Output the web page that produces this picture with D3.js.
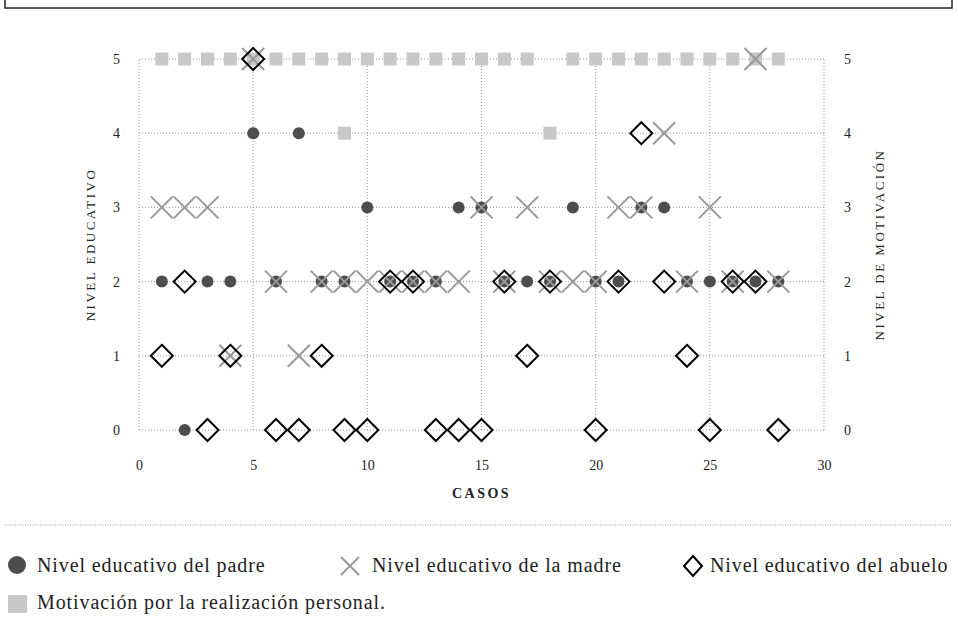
<!DOCTYPE html>
<html lang="es">
<head>
<meta charset="UTF-8">
<script src="https://d3js.org/d3.v7.min.js"></script>
<style>
  body { margin: 0; background: #fff; }
  svg { display: block; font-family: "Liberation Serif", "DejaVu Serif", serif; }
</style>
</head>
<body>
<div id="chart"></div>
<script>
// casos 1..28
var casos = d3.range(1, 29);
var xTicks = [0, 5, 10, 15, 20, 25, 30];
var yTicks = [0, 1, 2, 3, 4, 5];

var padre = [2, 0, 2, 2, 4, 2, 4, 2, 2, 3, 2, 2, 2, 3, 3, 2, 2, 2, 3, 2, 2, 3, 3, 2, 2, 2, 2, 2];
var madre = [3, 3, 3, 1, 5, 2, 1, 2, 2, 2, 2, 2, 2, 2, 3, 2, 3, 2, 2, 2, 3, 3, 4, 2, 3, 2, 5, 2];
// caso 19 sin dato del abuelo
var abuelo = [1, 2, 0, 1, 5, 0, 0, 1, 0, 0, 2, 2, 0, 0, 0, 2, 1, 2, null, 0, 2, 4, 2, 1, 0, 2, 2, 0];
var motivCasos = [1, 2, 3, 4, 5, 6, 7, 8, 9, 9, 10, 11, 12, 13, 14, 15, 16, 17, 18, 19, 20, 21, 22, 23, 24, 25, 26, 27, 28];
var motivValores = [5, 5, 5, 5, 5, 5, 5, 5, 5, 4, 5, 5, 5, 5, 5, 5, 5, 5, 4, 5, 5, 5, 5, 5, 5, 5, 5, 5, 5];

var leyenda = ["Nivel educativo del padre", "Nivel educativo de la madre", "Nivel educativo del abuelo", "Motivación por la realización personal."];

var width = 958, height = 621;
var margin = {top: 59, right: 134, bottom: 191, left: 139};

var svg = d3.select("#chart").append("svg")
    .attr("width", width)
    .attr("height", height);

// marco superior
svg.append("rect")
    .attr("x", 5).attr("y", -20)
    .attr("width", 947).attr("height", 28)
    .attr("fill", "none").attr("stroke", "#222").attr("stroke-width", 1.5);

var x = d3.scaleLinear().domain([0, 30]).range([margin.left, width - margin.right]);
var y = d3.scaleLinear().domain([0, 5]).range([height - margin.bottom, margin.top]);

// rejilla
var grid = svg.append("g").attr("stroke", "#999").attr("stroke-width", 1).attr("stroke-dasharray", "1,2");
grid.selectAll("line.h").data(yTicks).join("line")
    .attr("x1", x(0)).attr("x2", x(30))
    .attr("y1", d => y(d)).attr("y2", d => y(d));
grid.selectAll("line.v").data(xTicks).join("line")
    .attr("x1", d => x(d)).attr("x2", d => x(d))
    .attr("y1", y(0)).attr("y2", y(5));

// ejes
var xAxis = g => g
    .attr("transform", `translate(0,${y(0)})`)
    .call(d3.axisBottom(x).tickValues(xTicks).tickSize(0).tickPadding(30).tickFormat(d3.format("d")))
    .call(g => g.select(".domain").remove());
var yAxisLeft = g => g
    .attr("transform", `translate(${x(0)},0)`)
    .call(d3.axisLeft(y).tickValues(yTicks).tickSize(0).tickPadding(19).tickFormat(d3.format("d")))
    .call(g => g.select(".domain").remove());
var yAxisRight = g => g
    .attr("transform", `translate(${x(30)},0)`)
    .call(d3.axisRight(y).tickValues(yTicks).tickSize(0).tickPadding(20).tickFormat(d3.format("d")))
    .call(g => g.select(".domain").remove());

[xAxis, yAxisLeft, yAxisRight].forEach(a => {
    svg.append("g").call(a)
        .call(g => g.selectAll("text").attr("font-size", 14).attr("fill", "#222")
            .style("font-family", "'Liberation Serif', serif"));
});

// títulos de ejes
svg.append("text")
    .attr("x", x(15)).attr("y", 498)
    .attr("text-anchor", "middle")
    .attr("font-size", 14).attr("font-weight", "bold")
    .attr("letter-spacing", 2.5).attr("fill", "#222")
    .text("CASOS");
svg.append("text")
    .attr("transform", `translate(95,${y(2.5)}) rotate(-90)`)
    .attr("text-anchor", "middle")
    .attr("font-size", 13).attr("letter-spacing", 2.5).attr("fill", "#222")
    .text("NIVEL EDUCATIVO");
svg.append("text")
    .attr("transform", `translate(884,${y(2.5)}) rotate(-90)`)
    .attr("text-anchor", "middle")
    .attr("font-size", 13).attr("letter-spacing", 2.5).attr("fill", "#222")
    .text("NIVEL DE MOTIVACIÓN");

// marcas
var cSquare = "#c8c8c8", cCircle = "#4d4d4d", cCross = "#999", cDiamond = "#000";
var sq = 13, cr = 6, xs = 11, dm = 11;

var motiv = motivCasos.map((c, i) => ({c: c, v: motivValores[i]}));
svg.append("g").selectAll("rect").data(motiv).join("rect")
    .attr("x", d => x(d.c) - sq / 2).attr("y", d => y(d.v) - sq / 2)
    .attr("width", sq).attr("height", sq).attr("fill", cSquare);

svg.append("g").selectAll("circle").data(casos.map((c, i) => ({c: c, v: padre[i]}))).join("circle")
    .attr("cx", d => x(d.c)).attr("cy", d => y(d.v)).attr("r", cr).attr("fill", cCircle);

svg.append("g").selectAll("path").data(casos.map((c, i) => ({c: c, v: madre[i]}))).join("path")
    .attr("d", d => {
        var px = x(d.c), py = y(d.v);
        return `M${px - xs},${py - xs}L${px + xs},${py + xs}M${px - xs},${py + xs}L${px + xs},${py - xs}`;
    })
    .attr("stroke", cCross).attr("stroke-width", 2).attr("fill", "none");

svg.append("g").selectAll("path")
    .data(casos.map((c, i) => ({c: c, v: abuelo[i]})).filter(d => d.v !== null)).join("path")
    .attr("d", d => {
        var px = x(d.c), py = y(d.v);
        return `M${px},${py - dm}L${px + dm},${py}L${px},${py + dm}L${px - dm},${py}Z`;
    })
    .attr("stroke", cDiamond).attr("stroke-width", 2).attr("fill", "none");

// separador
svg.append("line")
    .attr("x1", 5).attr("x2", 952).attr("y1", 525).attr("y2", 525)
    .attr("stroke", "#999").attr("stroke-dasharray", "1,1.5");

// leyenda
var leg = svg.append("g").attr("font-size", 20).attr("letter-spacing", 0.9).attr("fill", "#222");
leg.append("circle").attr("cx", 17).attr("cy", 565).attr("r", 9).attr("fill", cCircle);
leg.append("text").attr("x", 37).attr("y", 572).text(leyenda[0]);
leg.append("path").attr("d", "M341,557L359,575M341,575L359,557")
    .attr("stroke", cCross).attr("stroke-width", 2).attr("fill", "none");
leg.append("text").attr("x", 372).attr("y", 572).text(leyenda[1]);
leg.append("path").attr("d", "M693,556L702,566L693,576L684,566Z")
    .attr("stroke", cDiamond).attr("stroke-width", 2).attr("fill", "none");
leg.append("text").attr("x", 710).attr("y", 572).text(leyenda[2]);
leg.append("rect").attr("x", 8).attr("y", 595).attr("width", 19).attr("height", 18).attr("fill", cSquare);
leg.append("text").attr("x", 37).attr("y", 609).text(leyenda[3]);
</script>
</body>
</html>
